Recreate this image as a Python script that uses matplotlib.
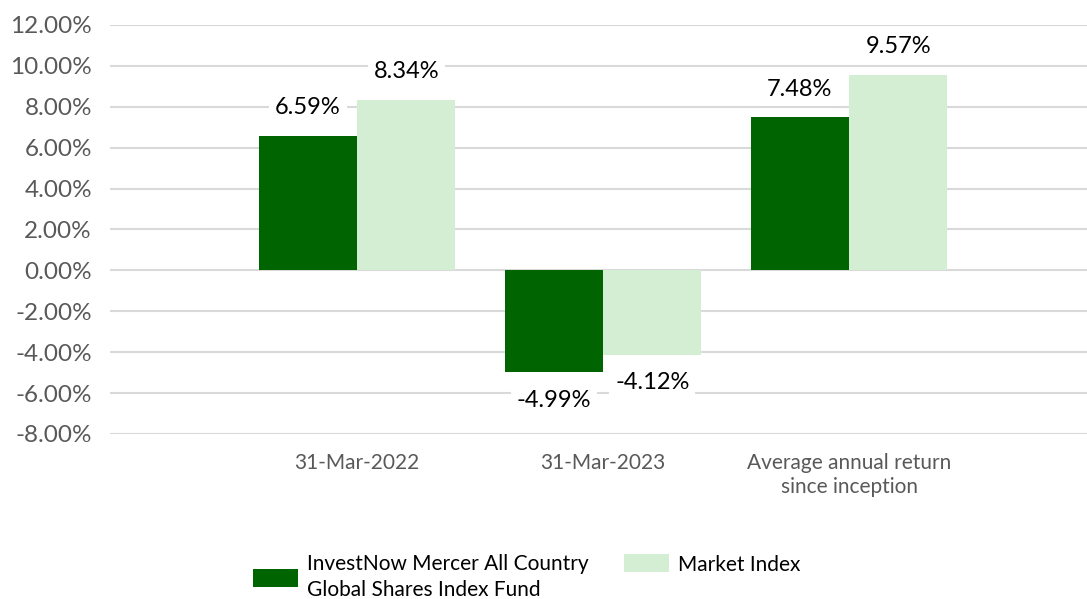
import matplotlib
matplotlib.use('Agg')
import matplotlib.pyplot as plt
import numpy as np
from matplotlib.ticker import FuncFormatter

plt.rcParams['font.family'] = ['Lato', 'DejaVu Sans']

categories = ['31-Mar-2022', '31-Mar-2023', 'Average annual return\nsince inception']
fund_values = [6.59, -4.99, 7.48]
index_values = [8.34, -4.12, 9.57]
series_names = ['InvestNow Mercer All Country\nGlobal Shares Index Fund', 'Market Index']
colors = ['#006400', '#D4EED4']

fig = plt.figure(figsize=(10.87, 5.99), dpi=100)
ax = fig.add_axes([0.1012, 0.2755, 0.8988, 0.683])

x = np.arange(len(categories))
w = 0.4
bars1 = ax.bar(x - w / 2, fund_values, w, color=colors[0], label=series_names[0], zorder=2)
bars2 = ax.bar(x + w / 2, index_values, w, color=colors[1], label=series_names[1], zorder=2)

# value labels with white boxes that cut the gridlines
for bars in (bars1, bars2):
    for b in bars:
        v = b.get_height()
        xc = b.get_x() + b.get_width() / 2
        ax.annotate(f'{v:.2f}%', (xc, v), xytext=(0, 20 if v >= 0 else -20),
                    textcoords='offset points', ha='center', va='center',
                    fontsize=17, color='black', zorder=3,
                    bbox=dict(boxstyle='square,pad=0.25', fc='white', ec='none'))

ax.set_ylim(-8, 12)
ax.set_yticks(np.arange(-8, 12.1, 2))
ax.yaxis.set_major_formatter(FuncFormatter(lambda v, p: f'{v:.2f}%'))
ax.set_xlim(-1.004, 2.967)
ax.set_xticks(x)
ax.set_xticklabels(categories)
ax.grid(axis='y', color='#D9D9D9', linewidth=1.5, zorder=0)
for s in ax.spines.values():
    s.set_visible(False)
ax.tick_params(axis='y', length=0, labelsize=17.5, labelcolor='#595959', pad=13)
ax.tick_params(axis='x', length=0, labelsize=15, labelcolor='#595959', pad=14)
for t in ax.get_xticklabels():
    t.set_linespacing(1.25)

# two single-entry legends so the handles line up like the original
leg_kw = dict(loc='upper left', frameon=False, fontsize=15, borderpad=0,
              handlelength=2.15, handleheight=0.96, handletextpad=0.43,
              labelspacing=0.1)
leg1 = fig.legend(handles=[bars1], labels=[series_names[0]],
                  bbox_to_anchor=(243 / 1087, 0.092), **leg_kw)
leg2 = fig.legend(handles=[bars2], labels=[series_names[1]],
                  bbox_to_anchor=(614 / 1087, 0.092), **leg_kw)
for leg in (leg1, leg2):
    for t in leg.get_texts():
        t.set_linespacing(1.35)

fig.savefig('out.png', dpi=100)
